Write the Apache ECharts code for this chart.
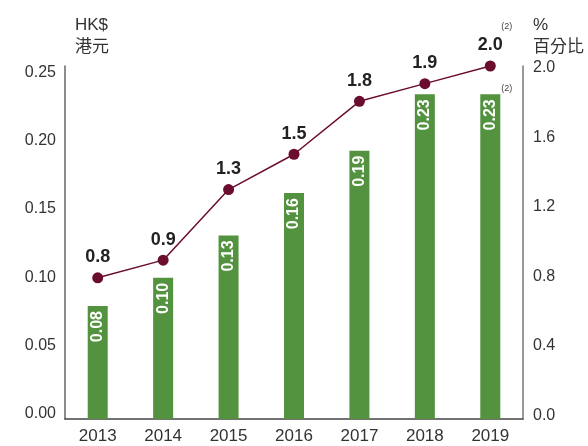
<!DOCTYPE html>
<html>
<head>
<meta charset="utf-8">
<script src="https://cdn.jsdelivr.net/npm/echarts@6/dist/echarts.min.js"></script>
<style>
  html, body { margin: 0; padding: 0; background: #fff; }
  #chart { width: 588px; height: 446px; }
</style>
</head>
<body>
<div id="chart"></div>
<script>
// Dividend per share (HK$) and dividend yield (%) by year
const years = ['2013', '2014', '2015', '2016', '2017', '2018', '2019'];
const dividendPerShare = [0.08, 0.10, 0.13, 0.16, 0.19, 0.23, 0.23];
const dividendYield = [0.8, 0.9, 1.3, 1.5, 1.8, 1.9, 2.0];
const footnoteMark = '(2)';
const footnoteIndex = 6;

const FONT = "'Liberation Sans', Arial, Helvetica, sans-serif";
const TEXT = '#333';
const BAR = '#53923f';
const LINE = '#6b0d2f';

const chart = echarts.init(document.getElementById('chart'), null, { renderer: 'canvas' });

const hiddenAxis = { show: false };

chart.setOption({
  animation: false,
  backgroundColor: '#fff',
  textStyle: { fontFamily: FONT },
  grid: [
    // plot area
    { left: 65, right: 65, top: 66, bottom: 27 },
    // left tick label column
    { left: 65, right: 65, top: 72.5, bottom: 32.5 },
    // right tick label column
    { left: 65, right: 65, top: 68, bottom: 30.5 }
  ],
  xAxis: [
    {
      gridIndex: 0, type: 'category', data: years,
      axisLine: { lineStyle: { color: '#444', width: 1.5 } },
      axisTick: { show: false },
      axisLabel: { color: TEXT, fontSize: 17, fontFamily: FONT, margin: 9 }
    },
    { gridIndex: 1, type: 'category', data: years, show: false },
    { gridIndex: 2, type: 'category', data: years, show: false }
  ],
  yAxis: [
    {
      gridIndex: 0, type: 'value', position: 'left', min: 0, max: 0.25, interval: 0.05,
      axisLine: { show: true, lineStyle: { color: '#666', width: 1.5 } },
      axisTick: { show: false }, axisLabel: { show: false }, splitLine: { show: false }
    },
    {
      gridIndex: 0, type: 'value', position: 'right', min: 0, max: 2, interval: 0.4,
      axisLine: { show: true, lineStyle: { color: '#777', width: 1.5 } },
      axisTick: { show: false }, axisLabel: { show: false }, splitLine: { show: false }
    },
    {
      gridIndex: 1, type: 'value', position: 'left', min: 0, max: 0.25, interval: 0.05,
      axisLine: { show: false }, axisTick: { show: false }, splitLine: { show: false },
      axisLabel: { color: TEXT, fontSize: 16, fontFamily: FONT, margin: 9,
        formatter: v => v.toFixed(2) }
    },
    {
      gridIndex: 2, type: 'value', position: 'right', min: 0, max: 2, interval: 0.4,
      axisLine: { show: false }, axisTick: { show: false }, splitLine: { show: false },
      axisLabel: { color: TEXT, fontSize: 16, fontFamily: FONT, margin: 10,
        formatter: v => v.toFixed(1) }
    }
  ],
  graphic: [
    {
      type: 'text', left: 75, top: 14,
      style: { text: 'HK$\n港元', fill: TEXT, font: "17px 'Liberation Sans', 'Noto Sans CJK TC', sans-serif", lineHeight: 22 }
    },
    {
      type: 'text', left: 533, top: 14,
      style: { text: '%\n百分比', fill: TEXT, font: "17px 'Liberation Sans', 'Noto Sans CJK TC', sans-serif", lineHeight: 22 }
    }
  ],
  series: [
    {
      name: '每股股息',
      type: 'bar',
      xAxisIndex: 0, yAxisIndex: 0,
      data: dividendPerShare,
      barWidth: 20,
      itemStyle: { color: BAR },
      label: {
        show: true, position: 'insideTop', rotate: 90, align: 'right', verticalAlign: 'middle',
        distance: 5, color: '#fff', fontSize: 16, fontWeight: 'bold', fontFamily: FONT,
        formatter: p => p.value.toFixed(2)
      },
      markPoint: {
        symbol: 'circle', symbolSize: 0, silent: true,
        label: { show: true, position: 'inside', offset: [16.5, -6], formatter: footnoteMark,
          color: '#444', fontSize: 9, fontFamily: FONT },
        data: [{ coord: [years[footnoteIndex], dividendPerShare[footnoteIndex]] }]
      },
      z: 2
    },
    {
      name: '股息率',
      type: 'line',
      xAxisIndex: 0, yAxisIndex: 1,
      data: dividendYield,
      symbol: 'circle', symbolSize: 11,
      lineStyle: { color: LINE, width: 1.5 },
      itemStyle: { color: LINE },
      label: {
        show: true, position: 'top', distance: 6, color: '#222', fontSize: 18, fontWeight: 'bold',
        fontFamily: FONT, formatter: p => p.value.toFixed(1)
      },
      markPoint: {
        symbol: 'circle', symbolSize: 0, silent: true,
        label: { show: true, position: 'inside', offset: [16.5, -39], formatter: footnoteMark,
          color: '#444', fontSize: 9, fontFamily: FONT },
        data: [{ coord: [years[footnoteIndex], dividendYield[footnoteIndex]] }]
      },
      z: 3
    }
  ]
});
</script>
</body>
</html>
